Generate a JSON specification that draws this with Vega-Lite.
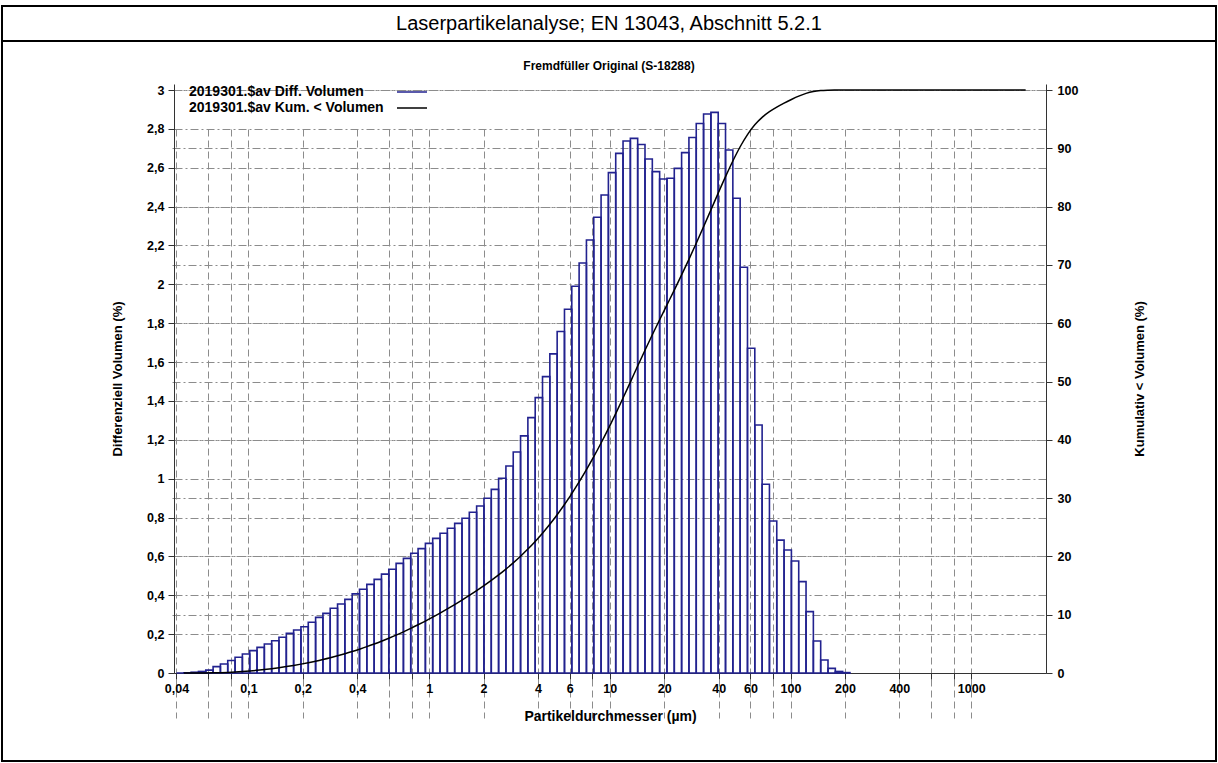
{
  "$schema": "https://vega.github.io/schema/vega-lite/v6.json",
  "padding": {"left": 1, "top": 5, "right": 1, "bottom": 0},
  "background": "white",
  "datasets": {
    "bins": [
      {"lo": 0.04, "hi": 0.04391, "diff": 0, "cum": 0},
      {"lo": 0.04391, "hi": 0.0482, "diff": 0.001, "cum": 0.001},
      {"lo": 0.0482, "hi": 0.05292, "diff": 0.004, "cum": 0.005},
      {"lo": 0.05292, "hi": 0.05809, "diff": 0.008, "cum": 0.013},
      {"lo": 0.05809, "hi": 0.06377, "diff": 0.015, "cum": 0.028},
      {"lo": 0.06377, "hi": 0.07, "diff": 0.033, "cum": 0.061},
      {"lo": 0.07, "hi": 0.07685, "diff": 0.046, "cum": 0.107},
      {"lo": 0.07685, "hi": 0.08436, "diff": 0.064, "cum": 0.171},
      {"lo": 0.08436, "hi": 0.09261, "diff": 0.081, "cum": 0.252},
      {"lo": 0.09261, "hi": 0.1017, "diff": 0.098, "cum": 0.35},
      {"lo": 0.1017, "hi": 0.1116, "diff": 0.115, "cum": 0.465},
      {"lo": 0.1116, "hi": 0.1225, "diff": 0.132, "cum": 0.597},
      {"lo": 0.1225, "hi": 0.1345, "diff": 0.149, "cum": 0.746},
      {"lo": 0.1345, "hi": 0.1476, "diff": 0.166, "cum": 0.912},
      {"lo": 0.1476, "hi": 0.1621, "diff": 0.184, "cum": 1.096},
      {"lo": 0.1621, "hi": 0.1779, "diff": 0.204, "cum": 1.3},
      {"lo": 0.1779, "hi": 0.1953, "diff": 0.221, "cum": 1.521},
      {"lo": 0.1953, "hi": 0.2144, "diff": 0.238, "cum": 1.759},
      {"lo": 0.2144, "hi": 0.2354, "diff": 0.261, "cum": 2.02},
      {"lo": 0.2354, "hi": 0.2584, "diff": 0.286, "cum": 2.306},
      {"lo": 0.2584, "hi": 0.2836, "diff": 0.307, "cum": 2.613},
      {"lo": 0.2836, "hi": 0.3114, "diff": 0.333, "cum": 2.946},
      {"lo": 0.3114, "hi": 0.3418, "diff": 0.355, "cum": 3.301},
      {"lo": 0.3418, "hi": 0.3752, "diff": 0.379, "cum": 3.68},
      {"lo": 0.3752, "hi": 0.4119, "diff": 0.407, "cum": 4.087},
      {"lo": 0.4119, "hi": 0.4522, "diff": 0.431, "cum": 4.518},
      {"lo": 0.4522, "hi": 0.4964, "diff": 0.456, "cum": 4.974},
      {"lo": 0.4964, "hi": 0.5449, "diff": 0.482, "cum": 5.456},
      {"lo": 0.5449, "hi": 0.5982, "diff": 0.509, "cum": 5.965},
      {"lo": 0.5982, "hi": 0.6566, "diff": 0.534, "cum": 6.499},
      {"lo": 0.6566, "hi": 0.7208, "diff": 0.564, "cum": 7.063},
      {"lo": 0.7208, "hi": 0.7913, "diff": 0.59, "cum": 7.653},
      {"lo": 0.7913, "hi": 0.8687, "diff": 0.616, "cum": 8.269},
      {"lo": 0.8687, "hi": 0.9536, "diff": 0.64, "cum": 8.909},
      {"lo": 0.9536, "hi": 1.0468, "diff": 0.667, "cum": 9.576},
      {"lo": 1.0468, "hi": 1.1492, "diff": 0.693, "cum": 10.269},
      {"lo": 1.1492, "hi": 1.2615, "diff": 0.719, "cum": 10.988},
      {"lo": 1.2615, "hi": 1.3849, "diff": 0.745, "cum": 11.733},
      {"lo": 1.3849, "hi": 1.5203, "diff": 0.77, "cum": 12.503},
      {"lo": 1.5203, "hi": 1.6689, "diff": 0.796, "cum": 13.299},
      {"lo": 1.6689, "hi": 1.832, "diff": 0.827, "cum": 14.126},
      {"lo": 1.832, "hi": 2.0112, "diff": 0.859, "cum": 14.985},
      {"lo": 2.0112, "hi": 2.2078, "diff": 0.899, "cum": 15.884},
      {"lo": 2.2078, "hi": 2.4236, "diff": 0.945, "cum": 16.829},
      {"lo": 2.4236, "hi": 2.6606, "diff": 1.002, "cum": 17.831},
      {"lo": 2.6606, "hi": 2.9207, "diff": 1.065, "cum": 18.896},
      {"lo": 2.9207, "hi": 3.2062, "diff": 1.137, "cum": 20.033},
      {"lo": 3.2062, "hi": 3.5197, "diff": 1.22, "cum": 21.253},
      {"lo": 3.5197, "hi": 3.8638, "diff": 1.314, "cum": 22.567},
      {"lo": 3.8638, "hi": 4.2415, "diff": 1.417, "cum": 23.984},
      {"lo": 4.2415, "hi": 4.6562, "diff": 1.525, "cum": 25.509},
      {"lo": 4.6562, "hi": 5.1114, "diff": 1.642, "cum": 27.151},
      {"lo": 5.1114, "hi": 5.6111, "diff": 1.757, "cum": 28.908},
      {"lo": 5.6111, "hi": 6.1596, "diff": 1.872, "cum": 30.78},
      {"lo": 6.1596, "hi": 6.7618, "diff": 1.99, "cum": 32.77},
      {"lo": 6.7618, "hi": 7.4229, "diff": 2.11, "cum": 34.88},
      {"lo": 7.4229, "hi": 8.1486, "diff": 2.228, "cum": 37.108},
      {"lo": 8.1486, "hi": 8.9452, "diff": 2.345, "cum": 39.453},
      {"lo": 8.9452, "hi": 9.8193, "diff": 2.46, "cum": 41.913},
      {"lo": 9.8193, "hi": 10.78, "diff": 2.575, "cum": 44.488},
      {"lo": 10.78, "hi": 11.834, "diff": 2.674, "cum": 47.162},
      {"lo": 11.834, "hi": 12.99, "diff": 2.738, "cum": 49.9},
      {"lo": 12.99, "hi": 14.26, "diff": 2.751, "cum": 52.651},
      {"lo": 14.26, "hi": 15.654, "diff": 2.72, "cum": 55.371},
      {"lo": 15.654, "hi": 17.185, "diff": 2.645, "cum": 58.016},
      {"lo": 17.185, "hi": 18.865, "diff": 2.58, "cum": 60.596},
      {"lo": 18.865, "hi": 20.709, "diff": 2.542, "cum": 63.138},
      {"lo": 20.709, "hi": 22.734, "diff": 2.546, "cum": 65.684},
      {"lo": 22.734, "hi": 24.956, "diff": 2.597, "cum": 68.281},
      {"lo": 24.956, "hi": 27.396, "diff": 2.678, "cum": 70.959},
      {"lo": 27.396, "hi": 30.074, "diff": 2.756, "cum": 73.715},
      {"lo": 30.074, "hi": 33.014, "diff": 2.828, "cum": 76.543},
      {"lo": 33.014, "hi": 36.242, "diff": 2.877, "cum": 79.42},
      {"lo": 36.242, "hi": 39.785, "diff": 2.885, "cum": 82.305},
      {"lo": 39.785, "hi": 43.674, "diff": 2.828, "cum": 85.133},
      {"lo": 43.674, "hi": 47.944, "diff": 2.691, "cum": 87.824},
      {"lo": 47.944, "hi": 52.631, "diff": 2.443, "cum": 90.267},
      {"lo": 52.631, "hi": 57.776, "diff": 2.088, "cum": 92.355},
      {"lo": 57.776, "hi": 63.424, "diff": 1.671, "cum": 94.026},
      {"lo": 63.424, "hi": 69.625, "diff": 1.276, "cum": 95.302},
      {"lo": 69.625, "hi": 76.431, "diff": 0.971, "cum": 96.273},
      {"lo": 76.431, "hi": 83.903, "diff": 0.782, "cum": 97.055},
      {"lo": 83.903, "hi": 92.106, "diff": 0.684, "cum": 97.739},
      {"lo": 92.106, "hi": 101.11, "diff": 0.633, "cum": 98.372},
      {"lo": 101.11, "hi": 110.99, "diff": 0.576, "cum": 98.948},
      {"lo": 110.99, "hi": 121.84, "diff": 0.47, "cum": 99.418},
      {"lo": 121.84, "hi": 133.75, "diff": 0.316, "cum": 99.734},
      {"lo": 133.75, "hi": 146.83, "diff": 0.165, "cum": 99.899},
      {"lo": 146.83, "hi": 161.18, "diff": 0.067, "cum": 99.966},
      {"lo": 161.18, "hi": 176.94, "diff": 0.024, "cum": 99.99},
      {"lo": 176.94, "hi": 194.24, "diff": 0.008, "cum": 99.998},
      {"lo": 194.24, "hi": 213.23, "diff": 0.002, "cum": 100},
      {"lo": 213.23, "hi": 234.07, "diff": 0, "cum": 100},
      {"lo": 234.07, "hi": 256.96, "diff": 0, "cum": 100},
      {"lo": 256.96, "hi": 282.08, "diff": 0, "cum": 100},
      {"lo": 282.08, "hi": 309.65, "diff": 0, "cum": 100},
      {"lo": 309.65, "hi": 339.93, "diff": 0, "cum": 100},
      {"lo": 339.93, "hi": 373.16, "diff": 0, "cum": 100},
      {"lo": 373.16, "hi": 409.64, "diff": 0, "cum": 100},
      {"lo": 409.64, "hi": 449.69, "diff": 0, "cum": 100},
      {"lo": 449.69, "hi": 493.65, "diff": 0, "cum": 100},
      {"lo": 493.65, "hi": 541.92, "diff": 0, "cum": 100},
      {"lo": 541.92, "hi": 594.9, "diff": 0, "cum": 100},
      {"lo": 594.9, "hi": 653.06, "diff": 0, "cum": 100},
      {"lo": 653.06, "hi": 716.9, "diff": 0, "cum": 100},
      {"lo": 716.9, "hi": 787.0, "diff": 0, "cum": 100},
      {"lo": 787.0, "hi": 863.94, "diff": 0, "cum": 100},
      {"lo": 863.94, "hi": 948.4, "diff": 0, "cum": 100},
      {"lo": 948.4, "hi": 1041.1, "diff": 0, "cum": 100},
      {"lo": 1041.1, "hi": 1142.9, "diff": 0, "cum": 100},
      {"lo": 1142.9, "hi": 1254.7, "diff": 0, "cum": 100},
      {"lo": 1254.7, "hi": 1377.3, "diff": 0, "cum": 100},
      {"lo": 1377.3, "hi": 1512.0, "diff": 0, "cum": 100},
      {"lo": 1512.0, "hi": 1659.8, "diff": 0, "cum": 100},
      {"lo": 1659.8, "hi": 1822.1, "diff": 0, "cum": 100},
      {"lo": 1822.1, "hi": 2000, "diff": 0, "cum": 100}
    ]
  },
  "vconcat": [
    {
      "width": 1214,
      "height": 35,
      "view": {"stroke": "black", "strokeWidth": 2, "fill": "white"},
      "data": {"values": [{"h": "Laserpartikelanalyse; EN 13043, Abschnitt 5.2.1"}]},
      "mark": {"type": "text", "font": "Liberation Sans", "fontSize": 20, "fontWeight": "normal", "color": "black", "baseline": "middle", "align": "center"},
      "encoding": {"text": {"field": "h"}}
    },
    {
      "width": 1214,
      "height": 720,
      "view": {"stroke": "black", "strokeWidth": 2, "fill": "white"},
      "title": {
        "text": "Fremdfüller Original (S-18288)",
        "font": "Liberation Sans",
        "fontSize": 12,
        "fontWeight": "bold",
        "color": "black",
        "anchor": "middle",
        "offset": -32
      },
      "data": {"name": "bins"},
      "layer": [
        {
          "transform": [{"filter": "datum.hi < 220"}],
          "mark": {"type": "rect", "filled": false, "stroke": "#22228f", "strokeWidth": 1.6},
          "encoding": {
            "x": {
              "field": "lo",
              "type": "quantitative",
              "scale": {"type": "log", "domain": [0.03875, 2592], "range": [172, 1044], "nice": false},
              "axis": {
                "orient": "bottom",
                "offset": -88,
                "values": [0.04, 0.06, 0.08, 0.1, 0.2, 0.4, 0.6, 0.8, 1, 2, 4, 6, 8, 10, 20, 40, 60, 80, 100, 200, 400, 600, 800, 1000],
                "labelExpr": "indexof([0.06, 0.08, 0.6, 0.8, 8, 80, 600, 800], datum.value) >= 0 ? '' : replace(toString(datum.value), '.', ',')",
                "grid": true,
                "gridDash": [7, 4],
                "tickSize": 6,
                "labelPadding": 3,
                "labelOverlap": false,
                "labelFlush": false,
                "title": "Partikeldurchmesser (µm)",
                "titlePadding": 15
              }
            },
            "x2": {"field": "hi"},
            "y": {
              "field": "diff",
              "type": "quantitative",
              "scale": {"domain": [0, 3.031], "range": [632, 43], "nice": false},
              "axis": {
                "orient": "left",
                "offset": -172,
                "values": [0, 0.2, 0.4, 0.6, 0.8, 1, 1.2, 1.4, 1.6, 1.8, 2, 2.2, 2.4, 2.6, 2.8, 3],
                "labelExpr": "replace(toString(datum.value), '.', ',')",
                "grid": true,
                "gridDash": [8, 3, 2, 3],
                "tickSize": 6,
                "labelPadding": 4,
                "title": "Differenziell Volumen (%)",
                "titleFontSize": 13,
                "titlePadding": 22
              }
            },
            "y2": {"datum": 0}
          }
        },
        {
          "mark": {"type": "line", "strokeWidth": 1.5, "interpolate": "monotone"},
          "encoding": {
            "x": {"field": "hi", "type": "quantitative"},
            "y": {
              "field": "cum",
              "type": "quantitative",
              "scale": {"domain": [0, 101.03], "range": [632, 43], "nice": false},
              "axis": {
                "orient": "right",
                "offset": -170,
                "values": [0, 10, 20, 30, 40, 50, 60, 70, 80, 90, 100],
                "grid": true,
                "gridDash": [8, 3, 2, 3],
                "tickSize": 6,
                "labelPadding": 5,
                "title": "Kumulativ < Volumen (%)",
                "titleFontSize": 13,
                "titleAngle": 270,
                "titlePadding": 69
              }
            },
            "color": {
              "datum": "2019301.$av Kum. < Volumen",
              "scale": {"domain": ["2019301.$av Diff. Volumen", "2019301.$av Kum. < Volumen"], "range": ["#22228f", "#000000"]},
              "legend": {
                "orient": "none",
                "legendX": 403,
                "legendY": 79,
                "title": null,
                "symbolType": "M-3,0L3,0",
                "symbolSize": 100,
                "symbolStrokeWidth": 1.5,
                "labelOffset": -230,
                "labelAlign": "left",
                "labelLimit": 400,
                "labelFontSize": 14,
                "rowPadding": 2,
                "padding": 0
              }
            }
          }
        }
      ],
      "resolve": {"scale": {"y": "independent"}, "axis": {"y": "independent"}}
    }
  ],
  "spacing": 0,
  "bounds": "flush",
  "config": {
    "axis": {
      "labelFont": "Liberation Sans",
      "labelFontSize": 12.5,
      "labelFontWeight": "bold",
      "labelColor": "black",
      "titleFont": "Liberation Sans",
      "titleFontSize": 14,
      "titleFontWeight": "bold",
      "titleColor": "black",
      "tickColor": "#333333",
      "domainColor": "#333333",
      "gridColor": "#8c8c8c",
      "gridWidth": 1
    },
    "legend": {
      "labelFont": "Liberation Sans",
      "labelFontSize": 14,
      "labelFontWeight": "bold",
      "labelColor": "black"
    }
  }
}
